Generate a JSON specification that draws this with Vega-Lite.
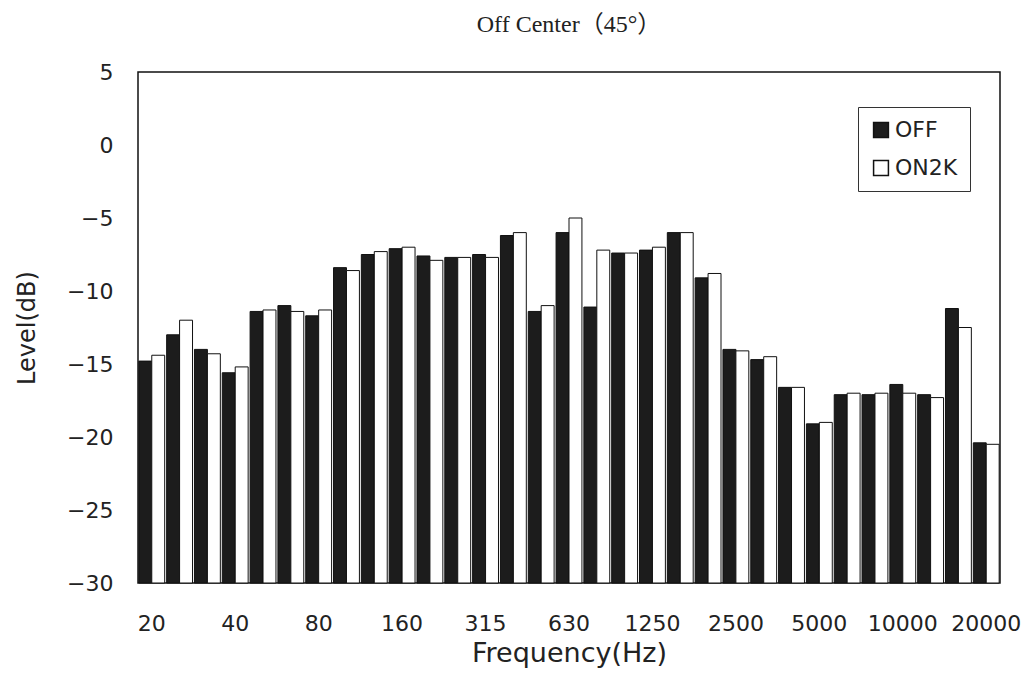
{
  "$schema": "https://vega.github.io/schema/vega-lite/v6.json",
  "width": 862,
  "height": 511,
  "autosize": {"type": "none"},
  "padding": {"left": 138, "top": 72, "right": 30, "bottom": 99},
  "background": "white",
  "title": {
    "text": "Off Center（45°）",
    "font": "Liberation Serif, Noto Sans CJK JP",
    "fontSize": 24,
    "fontWeight": "normal",
    "color": "#222",
    "anchor": "middle",
    "offset": 24
  },
  "config": {
    "view": {"stroke": "#111", "strokeWidth": 1.5},
    "axis": {"grid": false, "domain": false, "ticks": false, "labelFont": "DejaVu Sans", "titleFont": "DejaVu Sans", "labelColor": "#222", "titleColor": "#222", "titleFontWeight": "normal"}
  },
  "data": {
    "values": [
      {"band": "20", "series": "OFF", "level": -14.8}, {"band": "20", "series": "ON2K", "level": -14.4},
      {"band": "25", "series": "OFF", "level": -13.0}, {"band": "25", "series": "ON2K", "level": -12.0},
      {"band": "31.5", "series": "OFF", "level": -14.0}, {"band": "31.5", "series": "ON2K", "level": -14.3},
      {"band": "40", "series": "OFF", "level": -15.6}, {"band": "40", "series": "ON2K", "level": -15.2},
      {"band": "50", "series": "OFF", "level": -11.4}, {"band": "50", "series": "ON2K", "level": -11.3},
      {"band": "63", "series": "OFF", "level": -11.0}, {"band": "63", "series": "ON2K", "level": -11.4},
      {"band": "80", "series": "OFF", "level": -11.7}, {"band": "80", "series": "ON2K", "level": -11.3},
      {"band": "100", "series": "OFF", "level": -8.4}, {"band": "100", "series": "ON2K", "level": -8.6},
      {"band": "125", "series": "OFF", "level": -7.5}, {"band": "125", "series": "ON2K", "level": -7.3},
      {"band": "160", "series": "OFF", "level": -7.1}, {"band": "160", "series": "ON2K", "level": -7.0},
      {"band": "200", "series": "OFF", "level": -7.6}, {"band": "200", "series": "ON2K", "level": -7.9},
      {"band": "250", "series": "OFF", "level": -7.7}, {"band": "250", "series": "ON2K", "level": -7.7},
      {"band": "315", "series": "OFF", "level": -7.5}, {"band": "315", "series": "ON2K", "level": -7.7},
      {"band": "400", "series": "OFF", "level": -6.2}, {"band": "400", "series": "ON2K", "level": -6.0},
      {"band": "500", "series": "OFF", "level": -11.4}, {"band": "500", "series": "ON2K", "level": -11.0},
      {"band": "630", "series": "OFF", "level": -6.0}, {"band": "630", "series": "ON2K", "level": -5.0},
      {"band": "800", "series": "OFF", "level": -11.1}, {"band": "800", "series": "ON2K", "level": -7.2},
      {"band": "1000", "series": "OFF", "level": -7.4}, {"band": "1000", "series": "ON2K", "level": -7.4},
      {"band": "1250", "series": "OFF", "level": -7.2}, {"band": "1250", "series": "ON2K", "level": -7.0},
      {"band": "1600", "series": "OFF", "level": -6.0}, {"band": "1600", "series": "ON2K", "level": -6.0},
      {"band": "2000", "series": "OFF", "level": -9.1}, {"band": "2000", "series": "ON2K", "level": -8.8},
      {"band": "2500", "series": "OFF", "level": -14.0}, {"band": "2500", "series": "ON2K", "level": -14.1},
      {"band": "3150", "series": "OFF", "level": -14.7}, {"band": "3150", "series": "ON2K", "level": -14.5},
      {"band": "4000", "series": "OFF", "level": -16.6}, {"band": "4000", "series": "ON2K", "level": -16.6},
      {"band": "5000", "series": "OFF", "level": -19.1}, {"band": "5000", "series": "ON2K", "level": -19.0},
      {"band": "6300", "series": "OFF", "level": -17.1}, {"band": "6300", "series": "ON2K", "level": -17.0},
      {"band": "8000", "series": "OFF", "level": -17.1}, {"band": "8000", "series": "ON2K", "level": -17.0},
      {"band": "10000", "series": "OFF", "level": -16.4}, {"band": "10000", "series": "ON2K", "level": -17.0},
      {"band": "12500", "series": "OFF", "level": -17.1}, {"band": "12500", "series": "ON2K", "level": -17.3},
      {"band": "16000", "series": "OFF", "level": -11.2}, {"band": "16000", "series": "ON2K", "level": -12.5},
      {"band": "20000", "series": "OFF", "level": -20.4}, {"band": "20000", "series": "ON2K", "level": -20.5}
    ]
  },
  "mark": {"type": "bar", "stroke": "#111", "strokeWidth": 1},
  "encoding": {
    "x": {
      "field": "band",
      "type": "nominal",
      "sort": ["20","25","31.5","40","50","63","80","100","125","160","200","250","315","400","500","630","800","1000","1250","1600","2000","2500","3150","4000","5000","6300","8000","10000","12500","16000","20000"],
      "scale": {"paddingInner": 0.07, "paddingOuter": 0.03},
      "axis": {
        "values": ["20","40","80","160","315","630","1250","2500","5000","10000","20000"],
        "labelAngle": 0,
        "labelFontSize": 22,
        "labelPadding": 30,
        "labelOverlap": false,
        "title": "Frequency(Hz)",
        "titleFontSize": 27,
        "titlePadding": 6
      }
    },
    "xOffset": {"field": "series", "type": "nominal", "sort": ["OFF", "ON2K"]},
    "y": {
      "field": "level",
      "type": "quantitative",
      "scale": {"domain": [-30, 5], "nice": false, "zero": false},
      "axis": {
        "values": [5, 0, -5, -10, -15, -20, -25, -30],
        "labelFontSize": 22,
        "labelPadding": 25,
        "title": "Level(dB)",
        "titleFontSize": 24,
        "titlePadding": 27
      }
    },
    "y2": {"datum": -30},
    "fill": {
      "field": "series",
      "type": "nominal",
      "scale": {"domain": ["OFF", "ON2K"], "range": ["#1c1c1c", "#ffffff"]},
      "legend": {
        "title": null,
        "orient": "none",
        "legendX": 720,
        "legendY": 35,
        "symbolType": "square",
        "symbolSize": 220,
        "symbolStrokeColor": "#111",
        "symbolStrokeWidth": 1.5,
        "labelFont": "DejaVu Sans",
        "labelFontSize": 22,
        "labelColor": "#222",
        "rowPadding": 16,
        "strokeColor": "#333",
        "padding": 12,
        "labelOffset": 3
      }
    }
  }
}
